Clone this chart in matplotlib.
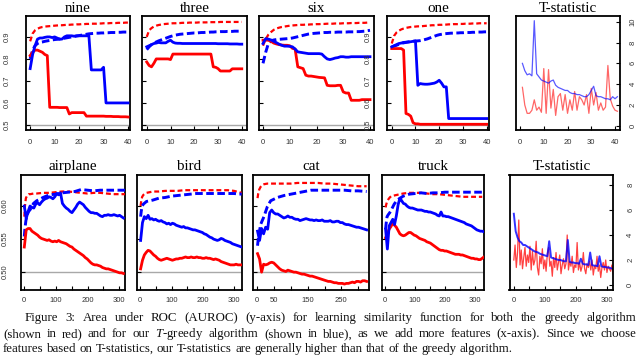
import numpy as np
import matplotlib
matplotlib.use('Agg')
import matplotlib.pyplot as plt

plt.rcParams['font.family'] = ['Liberation Sans', 'DejaVu Sans']
plt.rcParams['mathtext.fontset'] = 'custom'
plt.rcParams['mathtext.rm'] = 'Liberation Serif'
plt.rcParams['mathtext.it'] = 'Liberation Serif:italic'

# ---------------- data: top row (x = 0..40) ----------------
nine_red = [0.815, 0.83, 0.84, 0.84, 0.835, 0.83, 0.82, 0.815, 0.58, 0.58, 0.58, 0.58, 0.579, 0.579, 0.579, 0.579,
            0.55, 0.556, 0.556, 0.556, 0.556, 0.556, 0.556, 0.54, 0.54, 0.54, 0.54, 0.54, 0.54, 0.54, 0.54,
            0.539, 0.539, 0.539, 0.538, 0.538, 0.538, 0.537, 0.537, 0.537, 0.536]
nine_blue = [0.756, 0.82, 0.86, 0.89, 0.895, 0.895, 0.898, 0.9, 0.9, 0.897, 0.9, 0.895, 0.89, 0.89, 0.9, 0.905,
             0.905, 0.905, 0.903, 0.905, 0.905, 0.905, 0.905, 0.905, 0.905, 0.75, 0.75, 0.75, 0.75, 0.75, 0.762,
             0.6, 0.6, 0.6, 0.6, 0.6, 0.6, 0.6, 0.6, 0.6, 0.6]
nine_blue_d = [0.80, 0.84, 0.86, 0.87, 0.875, 0.877, 0.88, 0.882, 0.884, 0.886, 0.888, 0.889, 0.89, 0.892, 0.894,
               0.896, 0.898, 0.9, 0.902, 0.904, 0.906, 0.908, 0.91, 0.912, 0.914, 0.915, 0.916, 0.917, 0.917,
               0.918, 0.918, 0.919, 0.919, 0.92, 0.92, 0.92, 0.921, 0.921, 0.922, 0.922, 0.922]
nine_red_d = [0.88, 0.915, 0.93, 0.937, 0.942, 0.945, 0.947, 0.948, 0.949, 0.95, 0.951, 0.952, 0.953, 0.953, 0.954,
              0.955, 0.955, 0.956, 0.956, 0.957, 0.957, 0.958, 0.958, 0.959, 0.959, 0.96, 0.96, 0.96, 0.961, 0.961,
              0.962, 0.962, 0.962, 0.963, 0.963, 0.963, 0.964, 0.964, 0.964, 0.965, 0.965]

three_red = [0.786, 0.77, 0.764, 0.78, 0.8, 0.8, 0.8, 0.8, 0.8, 0.8, 0.797] + [0.822] * 17 + \
            [0.764, 0.762, 0.756, 0.745, 0.745, 0.745, 0.745, 0.745, 0.755, 0.755, 0.755, 0.755, 0.755]
three_blue = [0.855, 0.86, 0.865, 0.87, 0.872, 0.875, 0.873, 0.873, 0.873, 0.88, 0.885, 0.876, 0.872, 0.871, 0.871,
              0.87, 0.87, 0.87, 0.87, 0.87, 0.87, 0.87, 0.87, 0.87, 0.87, 0.87, 0.87, 0.87, 0.87, 0.87,
              0.869, 0.869, 0.869, 0.869, 0.869, 0.868, 0.868, 0.868, 0.868, 0.867, 0.867]
three_blue_d = [0.842, 0.855, 0.865, 0.872, 0.877, 0.882, 0.886, 0.89, 0.894, 0.898, 0.902, 0.905, 0.908, 0.91,
                0.912, 0.913, 0.914, 0.915, 0.916, 0.917, 0.918, 0.918, 0.919, 0.92, 0.92, 0.921, 0.921, 0.922,
                0.922, 0.923, 0.923, 0.924, 0.924, 0.924, 0.925, 0.925, 0.925, 0.926, 0.926, 0.926, 0.927]
three_red_d = [0.9, 0.93, 0.94, 0.947, 0.951, 0.954, 0.956, 0.958, 0.959, 0.96, 0.961, 0.962, 0.962, 0.963, 0.963,
               0.964, 0.964, 0.964, 0.965, 0.965, 0.965, 0.965, 0.966, 0.966, 0.966, 0.966, 0.967, 0.967, 0.967,
               0.967, 0.967, 0.968, 0.968, 0.968, 0.968, 0.968, 0.968, 0.968, 0.968, 0.968, 0.968]

six_red = [0.885, 0.885, 0.885, 0.88, 0.872, 0.868, 0.865, 0.863, 0.862, 0.862, 0.86, 0.848, 0.845, 0.764, 0.76,
           0.756, 0.726, 0.722, 0.722, 0.72, 0.718, 0.716, 0.715, 0.714, 0.68, 0.678, 0.678, 0.678, 0.68, 0.68,
           0.65, 0.645, 0.645, 0.612, 0.612, 0.612, 0.612, 0.615, 0.615, 0.615, 0.615]
six_blue = [0.87, 0.892, 0.89, 0.886, 0.88, 0.874, 0.867, 0.862, 0.858, 0.858, 0.857, 0.855, 0.845, 0.832, 0.83,
            0.828, 0.826, 0.824, 0.824, 0.824, 0.824, 0.824, 0.822, 0.81, 0.8, 0.797, 0.8, 0.804, 0.806, 0.81,
            0.81, 0.808, 0.808, 0.81, 0.81, 0.81, 0.81, 0.81, 0.81, 0.81, 0.81]
six_blue_d = [0.78, 0.83, 0.87, 0.882, 0.886, 0.888, 0.889, 0.89, 0.891, 0.892, 0.893, 0.895, 0.898, 0.901, 0.904,
              0.907, 0.91, 0.913, 0.915, 0.916, 0.917, 0.918, 0.919, 0.92, 0.92, 0.921, 0.921, 0.921, 0.922,
              0.922, 0.922, 0.922, 0.923, 0.923, 0.923, 0.924, 0.924, 0.925, 0.926, 0.928, 0.93]
six_red_d = [0.86, 0.89, 0.91, 0.922, 0.932, 0.938, 0.942, 0.945, 0.947, 0.949, 0.951, 0.952, 0.953, 0.954, 0.955,
             0.955, 0.956, 0.956, 0.957, 0.957, 0.958, 0.958, 0.959, 0.959, 0.96, 0.96, 0.96, 0.961, 0.961, 0.961,
             0.962, 0.962, 0.962, 0.963, 0.963, 0.963, 0.964, 0.964, 0.964, 0.965, 0.965]

one_red = [0.847, 0.847, 0.847, 0.847, 0.847, 0.84, 0.552, 0.548, 0.54, 0.51, 0.505, 0.505] + [0.503] * 29
one_blue = [0.855, 0.86, 0.865, 0.87, 0.872, 0.875, 0.876, 0.877, 0.878, 0.88, 0.882, 0.68, 0.688, 0.686, 0.685,
            0.685, 0.686, 0.688, 0.69, 0.695, 0.703, 0.69, 0.673, 0.673] + [0.529] * 17
one_blue_d = [0.855, 0.858, 0.862, 0.866, 0.87, 0.873, 0.875, 0.877, 0.879, 0.88, 0.881, 0.882, 0.883, 0.885,
              0.888, 0.891, 0.895, 0.899, 0.903, 0.907, 0.91, 0.912, 0.914, 0.915, 0.916, 0.917, 0.917, 0.918,
              0.918, 0.919, 0.919, 0.92, 0.92, 0.92, 0.921, 0.921, 0.922, 0.922, 0.922, 0.923, 0.923]
one_red_d = [0.87, 0.905, 0.92, 0.928, 0.934, 0.938, 0.941, 0.943, 0.945, 0.946, 0.947, 0.948, 0.948, 0.949, 0.95,
             0.951, 0.952, 0.953, 0.953, 0.954, 0.955, 0.955, 0.956, 0.956, 0.957, 0.957, 0.958, 0.958, 0.958,
             0.959, 0.959, 0.96, 0.96, 0.96, 0.961, 0.961, 0.961, 0.962, 0.962, 0.962, 0.962]

# T-statistic (top), x = 1..41
tstat_top_blue = [6.0, 5.3, 4.9, 5.0, 4.8, 10.1, 5.0, 4.7, 4.4, 4.3, 4.2, 4.1, 4.3, 4.4, 3.9, 3.7, 3.6, 3.5, 3.4,
                  3.4, 3.2, 3.1, 3.1, 3.0, 3.0, 2.9, 2.8, 2.8, 3.0, 3.4, 3.8, 2.9, 2.8, 2.8, 2.7, 2.6, 2.6, 2.5,
                  2.8, 2.6, 2.8]
tstat_top_red = [3.7, 2.0, 1.2, 1.2, 1.5, 2.5, 1.5, 1.8, 1.3, 5.5, 1.2, 5.4, 1.7, 3.5, 1.0, 2.8, 3.1, 1.5, 3.0,
                 1.2, 2.5, 1.5, 3.3, 1.5, 2.8, 2.5, 2.0, 3.0, 1.2, 3.6, 2.0, 3.2, 1.5, 2.2, 1.5, 1.8, 5.8, 2.6,
                 1.9, 1.5, 1.4]

# ---------------- data: bottom row ----------------
# solid curves sampled at x = 1, 7, 13, ... ; dashed curves at coarse x
coarse_x = [1, 3, 6, 10, 15, 20, 30, 40, 60, 80, 100, 120, 140, 160, 180, 200, 220, 240, 260, 280, 300, 325]

airplane_blue = [0.600, 0.581, 0.592, 0.600, 0.598, 0.597, 0.603, 0.605, 0.602, 0.606, 0.609, 0.611, 0.612,
                 0.614, 0.613, 0.611, 0.614, 0.619, 0.617, 0.620, 0.604, 0.600, 0.597, 0.595, 0.592, 0.590,
                 0.594, 0.598, 0.603, 0.606, 0.604, 0.602, 0.598, 0.595, 0.592, 0.590, 0.590, 0.589, 0.589,
                 0.587, 0.585, 0.584, 0.586, 0.586, 0.587, 0.586, 0.586, 0.587, 0.586, 0.585, 0.586, 0.584, 0.582]
airplane_red = [0.538, 0.564, 0.566, 0.566, 0.562, 0.560, 0.558, 0.556, 0.553, 0.551, 0.550, 0.549, 0.548, 0.549,
                0.547, 0.546, 0.547, 0.546, 0.548, 0.546, 0.545, 0.544, 0.543, 0.541, 0.539, 0.538, 0.535, 0.533,
                0.531, 0.529, 0.527, 0.525, 0.522, 0.520, 0.517, 0.514, 0.512, 0.511, 0.511, 0.510, 0.509, 0.507,
                0.506, 0.505, 0.505, 0.504, 0.503, 0.502, 0.501, 0.500, 0.499, 0.499, 0.498]
airplane_red_d = [0.584, 0.600, 0.612, 0.616, 0.618, 0.618, 0.619, 0.619, 0.620, 0.620, 0.621, 0.622, 0.622,
                  0.621, 0.620, 0.619, 0.620, 0.620, 0.619, 0.618, 0.618, 0.618]
airplane_blue_d = [0.554, 0.566, 0.578, 0.587, 0.592, 0.595, 0.604, 0.608, 0.613, 0.617, 0.618, 0.620, 0.621,
                   0.622, 0.625, 0.624, 0.623, 0.624, 0.624, 0.624, 0.624, 0.624]

bird_blue = [0.548, 0.575, 0.584, 0.581, 0.586, 0.580, 0.581, 0.579, 0.580, 0.578, 0.577, 0.578, 0.576, 0.575,
             0.573, 0.574, 0.572, 0.574, 0.573, 0.571, 0.570, 0.569, 0.568, 0.569, 0.567, 0.567, 0.566, 0.565,
             0.564, 0.564, 0.563, 0.562, 0.561, 0.560, 0.558, 0.557, 0.555, 0.553, 0.552, 0.550, 0.549, 0.548,
             0.549, 0.551, 0.550, 0.548, 0.547, 0.546, 0.545, 0.543, 0.542, 0.541, 0.540, 0.539, 0.538]
bird_red = [0.505, 0.518, 0.526, 0.530, 0.533, 0.532, 0.529, 0.526, 0.524, 0.521, 0.519, 0.518, 0.519, 0.520,
            0.521, 0.520, 0.519, 0.518, 0.519, 0.520, 0.520, 0.521, 0.521, 0.522, 0.523, 0.522, 0.522, 0.523,
            0.522, 0.522, 0.523, 0.522, 0.522, 0.521, 0.521, 0.522, 0.521, 0.521, 0.520, 0.519, 0.520, 0.519,
            0.518, 0.516, 0.515, 0.514, 0.513, 0.512, 0.511, 0.511, 0.511, 0.512, 0.511, 0.511, 0.511]
bird_red_d = [0.600, 0.608, 0.614, 0.617, 0.619, 0.620, 0.621, 0.622, 0.622, 0.623, 0.623, 0.623, 0.624, 0.624,
              0.624, 0.624, 0.624, 0.624, 0.624, 0.624, 0.623, 0.620]
bird_blue_d = [0.584, 0.592, 0.600, 0.603, 0.605, 0.607, 0.608, 0.609, 0.612, 0.613, 0.615, 0.616, 0.617, 0.618,
               0.619, 0.619, 0.619, 0.619, 0.619, 0.619, 0.619, 0.618]

cat_blue = [0.562, 0.548, 0.566, 0.558, 0.568, 0.565, 0.590, 0.594, 0.590, 0.588, 0.588, 0.586, 0.584, 0.582,
            0.583, 0.585, 0.583, 0.583, 0.581, 0.580, 0.580, 0.578, 0.579, 0.580, 0.581, 0.580, 0.579, 0.579,
            0.578, 0.579, 0.578, 0.578, 0.579, 0.577, 0.577, 0.577, 0.578, 0.576, 0.576, 0.577, 0.577, 0.575,
            0.575, 0.573, 0.572, 0.572, 0.571, 0.570, 0.569, 0.568, 0.568, 0.567, 0.566, 0.565, 0.564]
cat_red = [0.528, 0.520, 0.500, 0.512, 0.511, 0.512, 0.514, 0.515, 0.514, 0.511, 0.508, 0.505, 0.503, 0.502,
           0.501, 0.503, 0.502, 0.501, 0.500, 0.500, 0.499, 0.498, 0.497, 0.497, 0.496, 0.495, 0.494, 0.494,
           0.493, 0.492, 0.491, 0.490, 0.489, 0.488, 0.487, 0.486, 0.486, 0.485, 0.484, 0.484, 0.483, 0.483,
           0.483, 0.482, 0.483, 0.483, 0.484, 0.485, 0.484, 0.486, 0.486, 0.485, 0.487, 0.487, 0.486]
cat_red_d = [0.612, 0.619, 0.625, 0.629, 0.632, 0.633, 0.634, 0.634, 0.634, 0.634, 0.634, 0.635, 0.635, 0.635,
             0.635, 0.634, 0.634, 0.633, 0.632, 0.631, 0.630, 0.630]
cat_blue_d = [0.540, 0.550, 0.559, 0.572, 0.578, 0.584, 0.599, 0.608, 0.613, 0.616, 0.618, 0.620, 0.622, 0.624,
              0.624, 0.624, 0.624, 0.624, 0.624, 0.623, 0.623, 0.622]

truck_blue = [0.565, 0.535, 0.570, 0.575, 0.580, 0.572, 0.585, 0.602, 0.612, 0.608, 0.604, 0.603, 0.600, 0.598,
              0.597, 0.597, 0.596, 0.595, 0.594, 0.594, 0.594, 0.593, 0.592, 0.592, 0.591, 0.591, 0.590, 0.589,
              0.588, 0.586, 0.585, 0.591, 0.585, 0.585, 0.584, 0.584, 0.583, 0.582, 0.581, 0.580, 0.579, 0.578,
              0.577, 0.576, 0.575, 0.573, 0.572, 0.571, 0.570, 0.568, 0.566, 0.564, 0.563, 0.562, 0.562, 0.561]
truck_red = [0.552, 0.558, 0.565, 0.569, 0.574, 0.571, 0.568, 0.563, 0.558, 0.556, 0.555, 0.556, 0.558, 0.560,
             0.560, 0.558, 0.556, 0.555, 0.553, 0.551, 0.550, 0.549, 0.548, 0.546, 0.545, 0.544, 0.542, 0.540,
             0.538, 0.536, 0.534, 0.533, 0.533, 0.532, 0.532, 0.531, 0.530, 0.529, 0.528, 0.527, 0.527, 0.527,
             0.526, 0.526, 0.525, 0.524, 0.523, 0.522, 0.521, 0.521, 0.520, 0.520, 0.519, 0.519, 0.521, 0.523]
truck_red_d = [0.598, 0.602, 0.607, 0.610, 0.613, 0.615, 0.616, 0.617, 0.619, 0.620, 0.620, 0.620, 0.619, 0.618,
               0.618, 0.617, 0.616, 0.615, 0.614, 0.614, 0.614, 0.614]
truck_blue_d = [0.565, 0.574, 0.584, 0.587, 0.590, 0.594, 0.603, 0.609, 0.615, 0.618, 0.619, 0.620, 0.619, 0.620,
                0.620, 0.621, 0.621, 0.621, 0.621, 0.621, 0.621, 0.621]

# T-statistic (bottom): blue sampled at x = 1, 7, 13, ...; red at x = 1, 5, 9, ...
tstat_bot_blue = [5.7, 4.3, 3.8, 3.5, 3.4, 3.2, 3.2, 3.1, 3.0, 2.9, 2.8, 2.7, 2.65, 2.6, 2.5, 2.45, 2.4, 2.35,
                  2.3, 3.5, 2.2, 2.15, 2.1, 2.05, 2.0, 2.0, 1.95, 1.9, 1.9, 3.6, 1.85, 1.8, 1.8, 1.75, 1.75,
                  1.7, 2.1, 1.7, 1.65, 1.65, 1.6, 2.6, 1.6, 1.55, 1.55, 1.5, 2.3, 1.5, 1.45, 1.45, 1.4, 1.4,
                  1.35, 1.3]
tstat_bot_red = [2.0, 3.2, 1.4, 2.6, 5.2, 1.6, 2.8, 1.3, 2.2, 3.0, 1.5, 2.4, 1.8, 3.1, 1.2, 2.7, 1.6, 2.0, 3.5,
                 1.4, 0.8, 2.3, 1.7, 2.9, 1.3, 2.0, 1.1, 2.5, 3.0, 1.5, 1.9, 0.7, 2.2, 1.4, 2.6, 1.2, 1.8, 2.4,
                 0.9, 1.6, 2.1, 1.3, 1.7, 4.0, 1.2, 1.9, 1.5, 2.3, 1.0, 1.6, 1.4, 3.4, 1.2, 1.8, 1.1, 1.5, 2.6,
                 1.3, 0.9, 1.7, 1.4, 1.9, 1.2, 2.0, 0.8, 1.5, 1.3, 2.3, 1.1, 1.6, 0.6, 1.4, 1.8, 1.2, 2.0, 1.0,
                 1.5, 1.3, 1.1, 1.6, 0.9]

top_titles = ['nine', 'three', 'six', 'one']
bottom_titles = ['airplane', 'bird', 'cat', 'truck']

# ---------------- drawing ----------------
W, H = 640, 358
fig = plt.figure(figsize=(W / 100, H / 100), dpi=100)
RED, BLUE, GRAY = '#ff0000', '#0000ff', '#a8a8a8'
SERIF = 'Liberation Serif'


def px_axes(l, r, t, b):
    return fig.add_axes([l / W, 1 - b / H, (r - l) / W, (b - t) / H])


def style(ax, xlim, ylim, xticks, xlabels, yticks, ylabels, right=False, xpad=6.5, ypad=10):
    ax.set_xlim(*xlim)
    ax.set_ylim(*ylim)
    ax.set_xticks(xticks)
    ax.set_xticklabels(xlabels)
    ax.set_yticks(yticks)
    if right:
        ax.yaxis.tick_right()
    ax.set_yticklabels(ylabels if ylabels else [''] * len(yticks))
    ax.tick_params(direction='in', length=3, width=0.8, color='black',
                   labelsize=5.5, labelcolor='#333333')
    ax.tick_params(axis='x', pad=xpad)
    ax.tick_params(axis='y', pad=ypad)
    for lbl in ax.get_yticklabels():
        lbl.set_rotation(90)
        lbl.set_va('center')
    for s in ax.spines.values():
        s.set_linewidth(1.3)


def auroc(ax, xs_solid, red, blue, xs_dash, red_d, blue_d):
    ax.axhline(0.5, color=GRAY, lw=1.0, zorder=1)
    ax.plot(xs_dash[:len(red_d)], red_d, color=RED, lw=1.6, dashes=(2.2, 1.3), zorder=3)
    ax.plot(xs_dash[:len(blue_d)], blue_d, color=BLUE, lw=2.1, dashes=(2.6, 1.2), zorder=3)
    ax.plot(xs_solid[:len(red)], red, color=RED, lw=2.0, zorder=4)
    ax.plot(xs_solid[:len(blue)], blue, color=BLUE, lw=2.0, zorder=4)


# top row
top_boxes = [(26, 130), (142, 247), (259, 374), (387, 489)]
top_xlims = [(-1.7, 40.8), (-2.0, 42.2), (-1.5, 41.5), (-2.0, 41.0)]
top_sets = [(nine_red, nine_blue, nine_red_d, nine_blue_d),
            (three_red, three_blue, three_red_d, three_blue_d),
            (six_red, six_blue, six_red_d, six_blue_d),
            (one_red, one_blue, one_red_d, one_blue_d)]
top_yt = [0.5, 0.6, 0.7, 0.8, 0.9]
for i, (title, (l, r), xl, (rs, bs, rd, bd)) in enumerate(zip(top_titles, top_boxes, top_xlims, top_sets)):
    ax = px_axes(l, r, 16, 130)
    auroc(ax, np.arange(41), rs, bs, np.arange(41), rd, bd)
    labels = ['0.5', '0.6', '0.7', '0.8', '0.9'] if i in (0, 3) else None
    style(ax, xl, (0.477, 0.995), [0, 10, 20, 30, 40], ['0', '10', '20', '30', '40'], top_yt, labels,
          ypad=11)
    ax.set_title(title, fontfamily=SERIF, fontsize=10.8, pad=3)

ax = px_axes(516, 620, 16, 130)
xt = np.arange(1, len(tstat_top_blue) + 1)
ax.plot(xt, tstat_top_red, color=RED, lw=0.9, alpha=0.6)
ax.plot(xt, tstat_top_blue, color=BLUE, lw=0.9, alpha=0.65)
style(ax, (-1.7, 42.1), (-0.4, 10.55), [0, 10, 20, 30, 40], ['0', '10', '20', '30', '40'],
      [0, 2, 4, 6, 8, 10], ['0', '2', '4', '6', '8', '10'], right=True, ypad=7)
ax.set_title('T-statistic', fontfamily=SERIF, fontsize=10.8, pad=3)

# bottom row
bot_boxes = [(21, 125), (137, 242), (253, 369), (382, 484)]
bot_xlims = [(-9.4, 318), (-10.6, 326), (-12.5, 332), (-11, 331)]
bot_sets = [(airplane_red, airplane_blue, airplane_red_d, airplane_blue_d),
            (bird_red, bird_blue, bird_red_d, bird_blue_d),
            (cat_red, cat_blue, cat_red_d, cat_blue_d),
            (truck_red, truck_blue, truck_red_d, truck_blue_d)]
xs6 = 1 + 6 * np.arange(60)
for i, (title, (l, r), xl, (rs, bs, rd, bd)) in enumerate(zip(bottom_titles, bot_boxes, bot_xlims, bot_sets)):
    ax = px_axes(l, r, 175, 290)
    auroc(ax, xs6, rs, bs, np.array(coarse_x), rd, bd)
    if title == 'cat':
        xlabels = ['0', '50', '', '150', '', '250', '']
    else:
        xlabels = ['0', '', '100', '', '200', '', '300']
    ylabels = ['0.50', '0.55', '0.60'] if i == 0 else None
    style(ax, xl, (0.473, 0.647), [0, 50, 100, 150, 200, 250, 300], xlabels, [0.50, 0.55, 0.60], ylabels,
          xpad=5, ypad=9)
    ax.set_title(title, fontfamily=SERIF, fontsize=10.8, pad=3.5)

ax = px_axes(509.5, 613.3, 175, 290)
xr = 1 + 4 * np.arange(len(tstat_bot_red))
xb = 1 + 6 * np.arange(len(tstat_bot_blue))
ax.plot(xr, tstat_bot_red, color=RED, lw=0.9, alpha=0.75)
ax.plot(xb, tstat_bot_blue, color=BLUE, lw=1.4, alpha=0.8)
style(ax, (-12.9, 321.5), (-0.4, 8.8), [0, 50, 100, 150, 200, 250, 300],
      ['0', '', '100', '', '200', '', '300'], [0, 2, 4, 6, 8], ['0', '2', '4', '6', '8'], right=True,
      xpad=5, ypad=10)
ax.set_title('T-statistic', fontfamily=SERIF, fontsize=10.8, pad=3.5)

# ---------------- caption ----------------
cap_lines = ["Figure 3:  Area under ROC (AUROC) (y-axis) for learning similarity function for both the greedy algorithm",
             "(shown in red) and for our $T$-greedy algorithm (shown in blue), as we add more features (x-axis). Since we choose",
             "features based on T-statistics, our T-statistics are generally higher than that of the greedy algorithm."]
renderer = fig.canvas.get_renderer()
probe = fig.text(0, 0, cap_lines[2], fontsize=10, family=SERIF)
natural = probe.get_window_extent(renderer).width
probe.remove()
fs = 10 * 512 / natural
line_spans = [(25, 636), (3, 636), (3, None)]
baselines = [321, 337, 352]


def place_line(text, base, x0, x1):
    words = [w for w in text.split(' ') if w != '']
    objs = [fig.text(0, 1 - base / H, w, fontsize=fs, family=SERIF, va='baseline', ha='left', color='#111111')
            for w in words]
    widths = [o.get_window_extent(renderer).width for o in objs]
    if x1 is not None:
        gap = (x1 - x0 - sum(widths)) / (len(words) - 1)
    else:
        gap = fs * 0.25 * 100 / 72
    x = x0
    for o, w in zip(objs, widths):
        o.set_x(x / W)
        x += w + gap


for text, base, (x0, x1) in zip(cap_lines, baselines, line_spans):
    place_line(text, base, x0, x1)

fig.savefig('out.png', dpi=100)
